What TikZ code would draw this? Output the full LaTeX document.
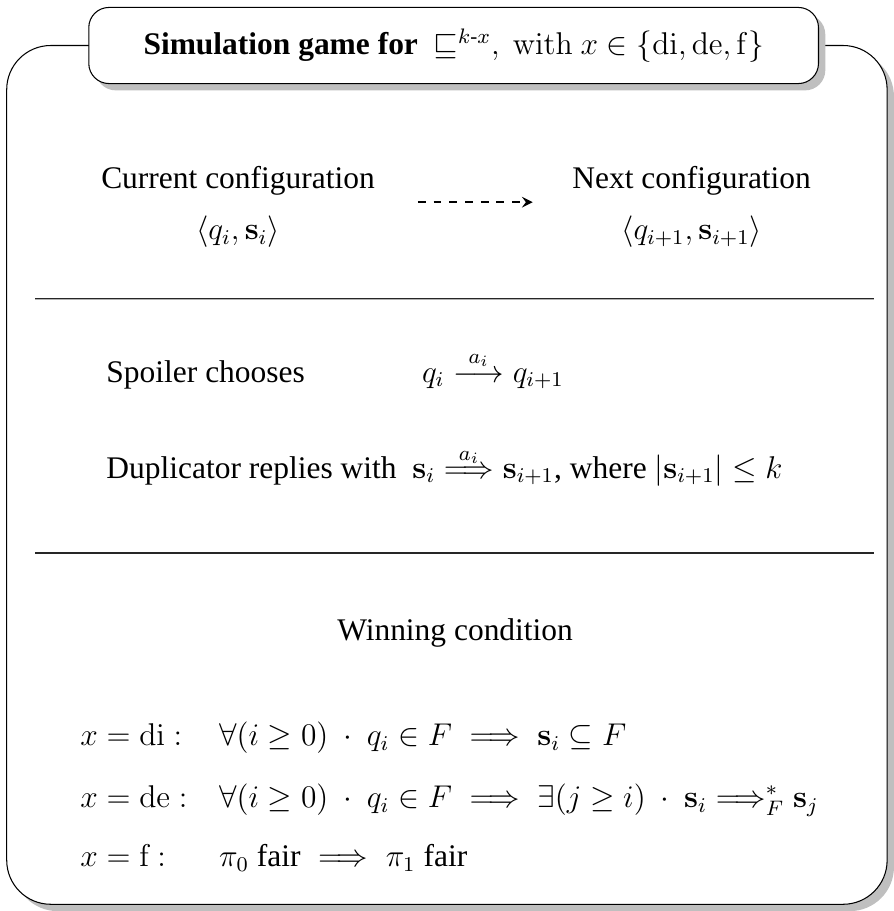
\documentclass[12pt,tikz,border=0pt]{standalone}
\usepackage{amsmath,amssymb}
\usepackage[no-math]{fontspec}
\setmainfont{Liberation Serif}
\usetikzlibrary{shadows}

\tikzset{
  panel/.style={draw, rounded corners=0.59cm, fill=white,
    drop shadow={shadow xshift=2.6pt, shadow yshift=-2.6pt, fill=black!25, opacity=1}},
  heading/.style={draw, rounded corners=0.27cm, fill=white, inner sep=0pt,
    minimum width=9.78cm, minimum height=1.02cm,
    drop shadow={shadow xshift=2.6pt, shadow yshift=-2.6pt, fill=black!25, opacity=1}},
  txt/.style={inner sep=0pt, anchor=base},
  ltxt/.style={inner sep=0pt, anchor=base west},
}

\begin{document}
\begin{tikzpicture}
\useasboundingbox (0,0) rectangle (11.98,12.21);

\draw[panel] (0.09,0.09) rectangle (11.89,11.60);
\node[heading] (title) at (6.08,11.60) {\textbf{Simulation game for}\ \ $\sqsubseteq^{k\text{-}x},\ \mathrm{with}\ x\in\{\mathrm{di},\mathrm{de},\mathrm{f}\}$};

% configurations
\node[txt] (cur) at (3.19,9.69) {Current configuration};
\node[txt] (curconf) at (3.19,9.00) {$\langle q_i,\mathbf{s}_i\rangle$};
\node[txt] (nxt) at (9.27,9.69) {Next configuration};
\node[txt] (nxtconf) at (9.27,9.00) {$\langle q_{i+1},\mathbf{s}_{i+1}\rangle$};
\coordinate (arrs) at (5.60,9.50);
\coordinate (arre) at (7.14,9.50);
\draw[-stealth, dashed, thick] (arrs) -- (arre);

% separators
\foreach \y in {8.21,4.80}{
  \draw[black!30, line width=0.5pt] (0.47,\y-0.013) -- (11.71,\y-0.013);
  \draw[black!85, line width=0.5pt] (0.47,\y) -- (11.71,\y);
}

% moves
\node[ltxt] (spoiler) at (1.42,7.09) {Spoiler chooses};
\node[ltxt] (spmove) at (5.65,7.09) {$q_i \stackrel{a_i}{\longrightarrow} q_{i+1}$};
\node[ltxt] (dupl) at (1.42,5.80) {Duplicator replies with\ \ $\mathbf{s}_i \stackrel{a_i}{\Longrightarrow} \mathbf{s}_{i+1}$, where $|\mathbf{s}_{i+1}|\leq k$};

% winning condition
\node[txt] (win) at (6.10,3.63) {Winning condition};
\node[ltxt] (xdi) at (1.07,2.22) {$x=\mathrm{di}:$};
\node[ltxt] (cdi) at (2.93,2.22) {$\forall(i\geq 0)\ \cdot\ q_i\in F \implies \mathbf{s}_i\subseteq F$};
\node[ltxt] (xde) at (1.07,1.39) {$x=\mathrm{de}:$};
\node[ltxt] (cde) at (2.93,1.39) {$\forall(i\geq 0)\ \cdot\ q_i\in F \implies \exists(j\geq i)\ \cdot\ \mathbf{s}_i\Longrightarrow^*_F\mathbf{s}_j$};
\node[ltxt] (xf) at (1.07,0.59) {$x=\mathrm{f}:$};
\node[ltxt] (cf) at (2.93,0.59) {$\pi_0\text{ fair} \implies \pi_1\text{ fair}$};
\end{tikzpicture}
\end{document}
